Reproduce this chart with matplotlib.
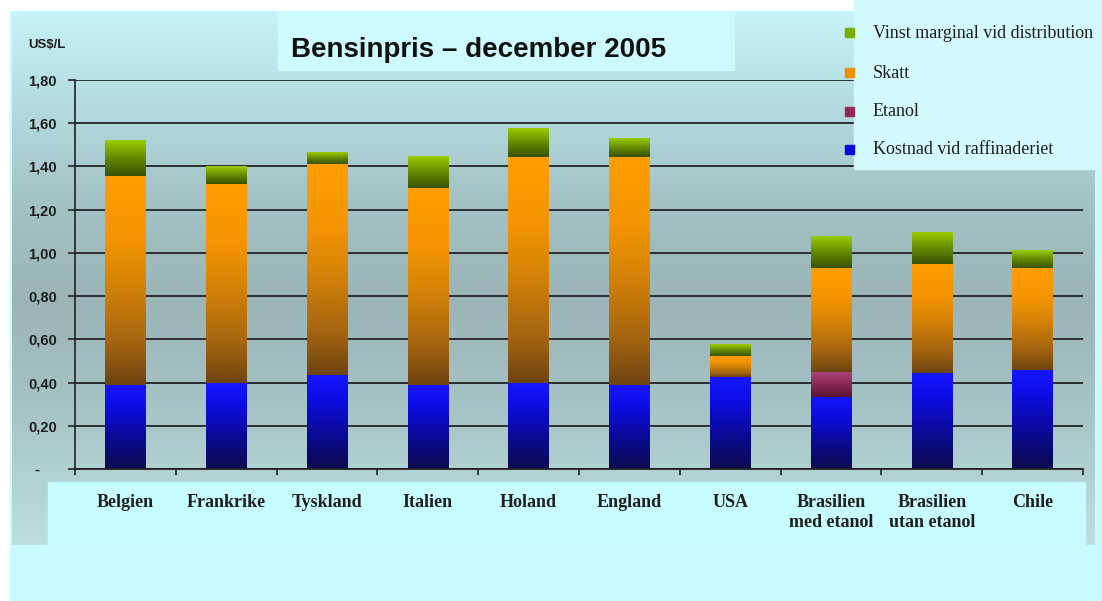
import numpy as np
import matplotlib.pyplot as plt
from matplotlib.colors import LinearSegmentedColormap
from matplotlib.patches import Rectangle

# Bensinpris per land, december 2005 (US$/L), staplat per kostnadsdel
countries = ["Belgien", "Frankrike", "Tyskland", "Italien", "Holand", "England",
             "USA", "Brasilien\nmed etanol", "Brasilien\nutan etanol", "Chile"]
kostnad = [0.39, 0.40, 0.435, 0.39, 0.40, 0.39, 0.425, 0.335, 0.445, 0.46]
etanol = [0, 0, 0, 0, 0, 0, 0, 0.115, 0, 0]
skatt = [0.965, 0.92, 0.975, 0.91, 1.045, 1.055, 0.10, 0.48, 0.505, 0.47]
vinst = [0.165, 0.08, 0.055, 0.145, 0.13, 0.085, 0.055, 0.145, 0.145, 0.08]

yticks = [0, 0.2, 0.4, 0.6, 0.8, 1.0, 1.2, 1.4, 1.6, 1.8]
ytick_labels = ["-    ", "0,20", "0,40", "0,60", "0,80", "1,00", "1,20", "1,40", "1,60", "1,80"]
legend_labels = ["Vinst marginal vid distribution", "Skatt", "Etanol", "Kostnad vid raffinaderiet"]

W, H = 1102, 601
sans = "Liberation Sans"
serif = "Liberation Serif"
text_col = "#1e1e1e"

cm_blue = LinearSegmentedColormap.from_list("blue", [(0, "#0c0c4e"), (0.4, "#0a0a9c"), (0.75, "#0d0de6"), (1, "#1616ff")])
cm_etanol = LinearSegmentedColormap.from_list("etanol", [(0, "#5a1632"), (0.6, "#8e2c5c"), (1, "#ac4476")])
cm_orange = LinearSegmentedColormap.from_list("orange", [(0, "#6e4410"), (0.2, "#a46410"), (0.45, "#d08008"), (0.7, "#f49400"), (1, "#ff9e00")])
cm_green = LinearSegmentedColormap.from_list("green", [(0, "#385205"), (0.5, "#648a02"), (1, "#9acd00")])

fig = plt.figure(figsize=(W / 100, H / 100), dpi=100, facecolor="white")

# background layer in pixel coordinates
bg = fig.add_axes([0, 0, 1, 1], zorder=-1)
bg.axis("off")
bg.add_patch(Rectangle((10, 11), W - 10, H - 11, color="#c8fbfd", zorder=0))
cm_bg = LinearSegmentedColormap.from_list(
    "bg", [(0, "#c6f3f6"), (0.17, "#b4dce0"), (0.35, "#a3c3c6"), (0.54, "#9bb4b7"),
           (0.73, "#a5c2c4"), (1, "#bcdfe1")])
grad = np.linspace(0, 1, 256).reshape(-1, 1)
bg.imshow(grad, extent=[12, 1095, 545, 12], cmap=cm_bg, aspect="auto", origin="upper", zorder=1)
bg.add_patch(Rectangle((278, 12), 456, 58, color="#cdfafc", zorder=2))
bg.add_patch(Rectangle((48, 482), 1037, 63, color="#c6fcfe", zorder=2))
bg.set_xlim(0, W)
bg.set_ylim(H, 0)
bg.text(479, 50, "Bensinpris \u2013 december 2005", ha="center", va="center",
        fontsize=20, fontweight="bold", family=sans, color="#111111", zorder=3)
bg.text(28, 45, "US$/L", ha="left", va="center", fontsize=9.5, fontweight="bold",
        family=sans, color=text_col, zorder=3)

# chart
ax = fig.add_axes([75 / W, (H - 469) / H, 1008 / W, 389 / H])
ax.patch.set_alpha(0)
x = np.arange(len(countries))


def gradient_bars(heights, bottoms, cmap, width=0.4):
    bars = ax.bar(x, heights, width, bottom=bottoms, color="none", zorder=2)
    for b in bars:
        h = b.get_height()
        if h <= 0:
            continue
        x0, y0 = b.get_x(), b.get_y()
        ax.imshow(grad, extent=[x0, x0 + b.get_width(), y0, y0 + h], origin="lower",
                  aspect="auto", cmap=cmap, zorder=2, interpolation="bilinear")
    return bars


b1 = np.array(kostnad)
b2 = b1 + np.array(etanol)
b3 = b2 + np.array(skatt)
gradient_bars(kostnad, 0, cm_blue)
gradient_bars(etanol, b1, cm_etanol)
gradient_bars(skatt, b2, cm_orange)
gradient_bars(vinst, b3, cm_green)

ax.set_xlim(-0.5, len(countries) - 0.5)
ax.set_ylim(0, 1.8)
ax.set_yticks(yticks)
ax.set_yticklabels(ytick_labels, fontsize=10.5, fontweight="bold", family=sans, color=text_col)
ax.yaxis.grid(True, color="#222222", lw=1.3, zorder=1)
ax.set_axisbelow(True)
ax.tick_params(axis="y", length=5, width=1.2, color="#222222", pad=8)

ax.set_xticks(x)
ax.set_xticklabels(countries, fontsize=13, fontweight="bold", family=serif, color=text_col,
                   linespacing=1.25, va="top")
ax.set_xticks(np.arange(len(countries) + 1) - 0.5, minor=True)
ax.tick_params(axis="x", which="major", length=0, pad=18)
ax.tick_params(axis="x", which="minor", length=4, width=1.2, color="#222222", direction="out")

for side in ["top", "right"]:
    ax.spines[side].set_visible(False)
ax.spines["left"].set_color("#222222")
ax.spines["left"].set_linewidth(1.2)
ax.spines["bottom"].set_color("#222222")
ax.spines["bottom"].set_linewidth(1.3)

# legend box on top
lg = fig.add_axes([0, 0, 1, 1], zorder=2)
lg.set_xlim(0, W)
lg.set_ylim(H, 0)
lg.axis("off")
lg.patch.set_alpha(0)
lg.add_patch(Rectangle((854, 0), W - 854, 169, color="#d2f9fc"))
legend_colors = ["#7aac00", "#f09000", "#902a56", "#0a0ae0"]
legend_y = [33, 73, 112, 150]
for lab, col, yy in zip(legend_labels, legend_colors, legend_y):
    lg.add_patch(Rectangle((845, yy - 5), 9, 9, color=col))
    lg.text(873, yy, lab, ha="left", va="center", fontsize=13, family=serif, color=text_col)

fig.savefig("out.png", dpi=100, facecolor="white")
